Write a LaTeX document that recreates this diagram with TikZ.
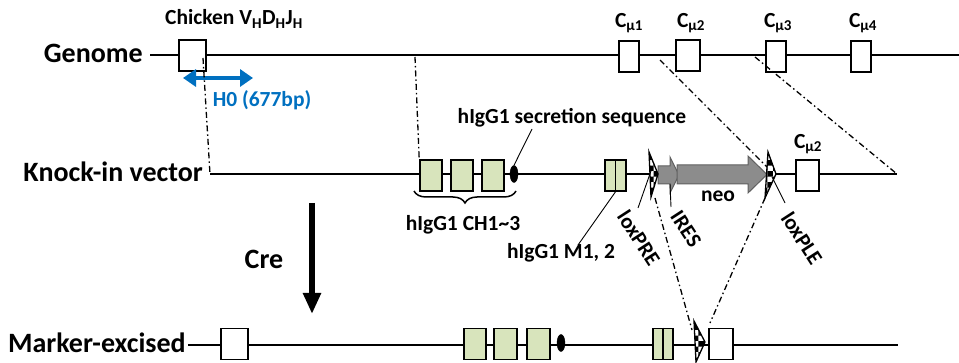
\documentclass[tikz,border=0pt]{standalone}
\usepackage{fontspec}
\setmainfont{Carlito}
\usetikzlibrary{arrows.meta,decorations.pathreplacing,patterns,shapes.geometric}

\definecolor{exongreen}{RGB}{216,228,188}
\definecolor{hzblue}{RGB}{0,112,192}
\definecolor{cassette}{RGB}{140,140,140}
\definecolor{cassetteedge}{RGB}{96,96,96}

\begin{document}
\begin{tikzpicture}[x=1pt,y=-1pt,
  backbone/.style={line width=1.5pt},
  exon/.style={draw, line width=1.6pt, fill=white, inner sep=0pt, minimum height=31pt},
  hexon/.style={exon, fill=exongreen},
  ddot/.style={line width=1.3pt, dash pattern=on 6pt off 3pt on 1.5pt off 3pt},
  leader/.style={line width=0.9pt},
  rowlabel/.style={anchor=east, inner sep=0pt, font=\fontsize{28}{32}\selectfont\bfseries},
  tag/.style={inner sep=0pt, font=\fontsize{21.5}{25}\selectfont\bfseries},
  loxsite/.style={draw, line width=1.3pt, preaction={fill=white}, pattern=checkerboard, pattern color=black},
  cassettearrow/.style={fill=cassette, draw=cassetteedge, line width=1pt},
  secdot/.style={draw, fill=black, ellipse, inner sep=0pt, minimum width=8pt, minimum height=17pt}
]
\useasboundingbox (0,0) rectangle (959,363);

% ---------------- genome ----------------
\coordinate (gL) at (150,55);
\coordinate (gR) at (959,55);
\draw[backbone] (gL) -- (gR);
\node[rowlabel] (lgenome) at (143,53) {Genome};

\node[exon, minimum width=27pt] (vdj) at (192.5,55.5) {};
\node[exon, minimum width=20pt] (cmu1) at (629,56.5) {};
\node[exon, minimum width=24pt] (cmu2) at (688,55.5) {};
\node[exon, minimum width=20pt] (cmu3) at (776,56.5) {};
\node[exon, minimum width=20pt] (cmu4) at (861,56.5) {};

\node[tag] (lvdj) at (234,19) {Chicken V\textsubscript{H}D\textsubscript{H}J\textsubscript{H}};
\node[tag] (lc1) at (629,23) {C\textsubscript{μ1}};
\node[tag] (lc2) at (691,23) {C\textsubscript{μ2}};
\node[tag] (lc3) at (778,23) {C\textsubscript{μ3}};
\node[tag] (lc4) at (863,23) {C\textsubscript{μ4}};

% homology arm
\coordinate (h0a) at (183,78);
\coordinate (h0b) at (253,78);
\draw[hzblue, line width=4pt, {Triangle[length=13pt,width=17pt]}-{Triangle[length=13pt,width=17pt]}] (h0a) -- (h0b);
\node[tag, text=hzblue] (lh0) at (262,100) {H0 (677bp)};

% ---------------- knock-in vector ----------------
\coordinate (kL) at (210,174);
\coordinate (kR) at (897,174);
\draw[backbone] (kL) -- (kR);
\node[rowlabel] (lknock) at (203,172) {Knock-in vector};

\node[hexon, minimum width=22pt] (k1) at (431,175.5) {};
\node[hexon, minimum width=22pt] (k2) at (462,175.5) {};
\node[hexon, minimum width=22pt] (k3) at (493,175.5) {};
\node[secdot] (ksec) at (514,174) {};
\node[hexon, minimum width=21pt] (km) at (615.5,175.5) {};
\draw[line width=1.6pt] (km.north) -- (km.south);
\node[exon, minimum width=23pt] (kc2) at (807.5,175.5) {};
\node[tag] (lkc2) at (808,144) {C\textsubscript{μ2}};

% selection cassette
\draw[cassettearrow] (658,166) -- (670,166) -- (670,157) -- (679,175) -- (670,193) -- (670,184) -- (658,184) -- cycle;
\draw[cassettearrow] (677,165) -- (748,165) -- (748,156) -- (767,174.5) -- (748,193) -- (748,184) -- (677,184) -- cycle;
\draw[loxsite] (649,152) -- (658,174) -- (651,197) -- cycle;
\draw[loxsite] (768,152) -- (776,174) -- (765,198) -- cycle;
\node[tag] (lneo) at (718,196) {neo};

% feature labels
\draw[line width=1.5pt, decorate, decoration={brace, mirror, amplitude=12pt}] (414,191) -- (516,191);
\node[tag] (lch) at (463,225) {hIgG1 CH1\textasciitilde3};
\node[tag] (lsec) at (572,118) {hIgG1 secretion sequence};
\draw[leader] (ksec.north) -- (532,129);
\node[tag] (lm12) at (561,253) {hIgG1 M1, 2};
\draw[leader] (km.south) -- (578,245);
\draw[leader] (652,168) -- (638,208);
\node[tag, rotate=-57] (lpre) at (639,238) {loxPRE};
\draw[leader] (670,184) -- (671,207);
\node[tag, rotate=-57] (lires) at (686,229) {IRES};
\draw[leader] (772,177) -- (785,203);
\node[tag, rotate=-57] (lple) at (802,238) {loxPLE};

% ---------------- marker-excised ----------------
\coordinate (mL) at (188,345);
\coordinate (mR) at (898,345);
\draw[backbone] (mL) -- (mR);
\node[rowlabel] (lmark) at (186,343) {Marker-excised};

\node[exon, minimum width=27pt] (mvdj) at (234.5,344) {};
\node[hexon, minimum width=22pt] (m1) at (475,344) {};
\node[hexon, minimum width=23pt] (m2) at (505.5,344) {};
\node[hexon, minimum width=23pt] (m3) at (538.5,344) {};
\node[secdot] (msec) at (561,343) {};
\node[hexon, minimum width=20pt] (mm) at (663,344) {};
\draw[line width=1.6pt] (mm.north) -- (mm.south);
\node[exon, minimum width=24pt] (mc2) at (721,344) {};
\draw[loxsite] (694,321) -- (705,342) -- (696,362) -- cycle;

% Cre step
\coordinate (creA) at (312,203);
\coordinate (creB) at (312,314);
\draw[line width=6pt, -{Triangle[length=21pt,width=17pt]}] (creA) -- (creB);
\node[rowlabel, anchor=center] (lcre) at (264,259) {Cre};

% ---------------- correspondence lines ----------------
\draw[ddot] (203,58) -- (kL);
\draw[ddot] (415,57) -- (k1.north west);
\draw[ddot] (660,60) -- (767,167);
\draw[ddot] (755,57) -- (kR);
\draw[ddot] (655,198) -- (692,330);
\draw[ddot] (765,198) -- (710,323);
\end{tikzpicture}
\end{document}
